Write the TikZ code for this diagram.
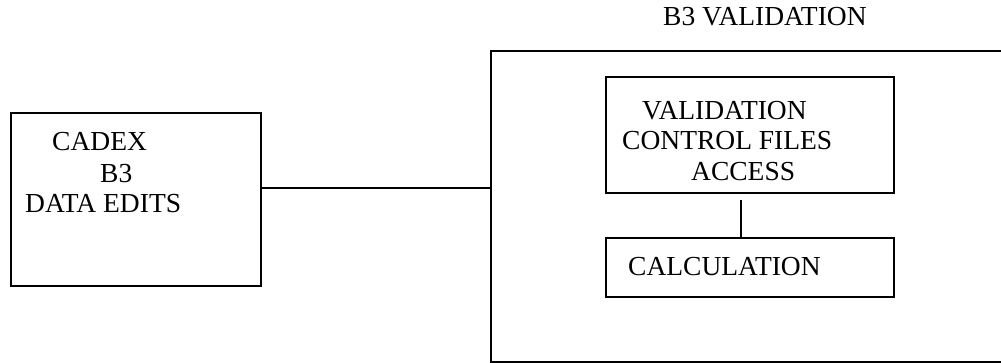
\documentclass[tikz,border=0pt]{standalone}
\usepackage{fontspec}
\setmainfont{Liberation Serif}
\begin{document}
\begin{tikzpicture}[x=1pt,y=-1pt,
  boxst/.style={draw,rectangle,line width=1.8pt,inner sep=0pt,anchor=north west},
  txt/.style={anchor=base west,inner sep=0pt,font=\fontsize{27.5pt}{31pt}\selectfont},
  conn/.style={line width=1.8pt}]
\useasboundingbox (0,0) rectangle (1001,362);
\clip (0,0) rectangle (1001,362);
\node[boxst,minimum width=250pt,minimum height=173pt] (left) at (10,112) {};
\node[boxst,minimum width=520pt,minimum height=311pt] (big) at (490,50) {};
\node[boxst,minimum width=288pt,minimum height=116pt] (top) at (605,76) {};
\node[boxst,minimum width=288pt,minimum height=59pt] (low) at (605,237) {};
\node[txt] (t1) at (52,150) {CADEX};
\node[txt] (t2) at (100,182) {B3};
\node[txt] (t3) at (25,212) {DATA EDITS};
\node[txt] (t4) at (663,25) {B3 VALIDATION};
\node[txt] (t5) at (642,119) {VALIDATION};
\node[txt] (t6) at (622,149) {CONTROL FILES};
\node[txt] (t7) at (691,180) {ACCESS};
\node[txt] (t8) at (628,275) {CALCULATION};
\draw[conn] ([yshift=11.5pt]left.east) -- ([yshift=11.5pt]left.east -| big.west);
\draw[conn] ([xshift=-9pt,yshift=-6pt]top.south) -- ([xshift=-9pt]low.north);
\end{tikzpicture}
\end{document}
